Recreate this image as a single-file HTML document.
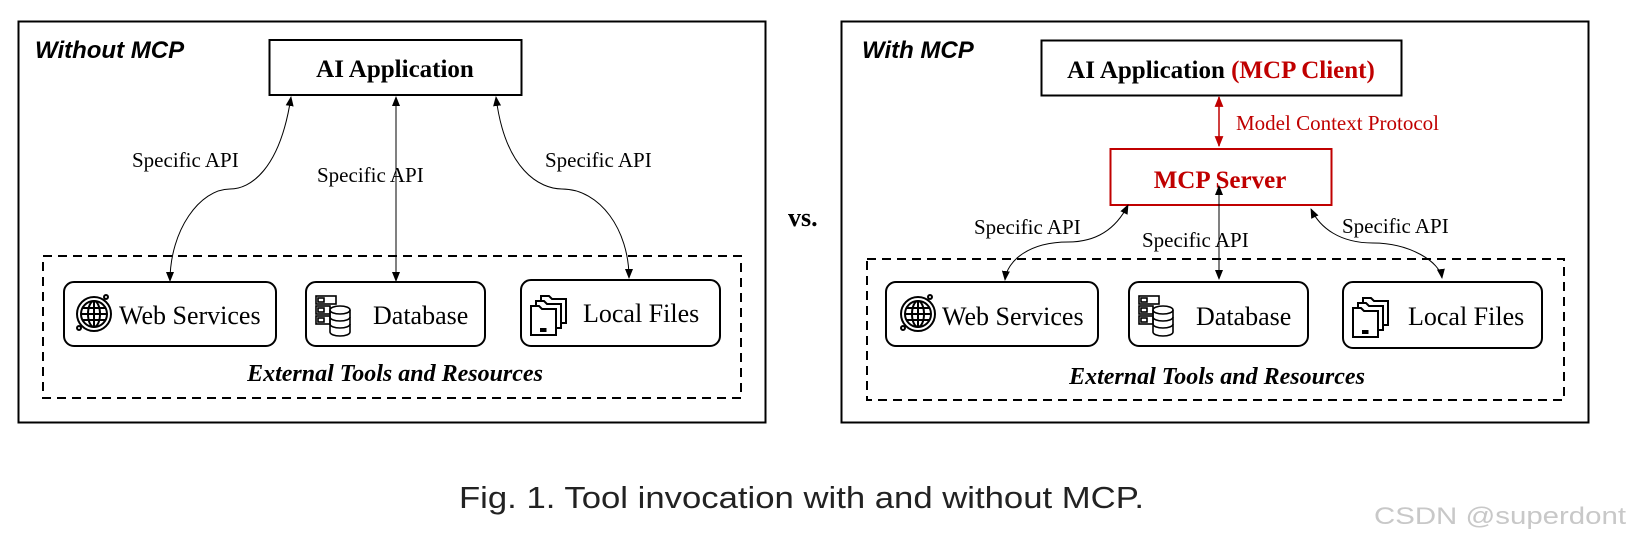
<!DOCTYPE html>
<html><head><meta charset="utf-8"><style>
html,body{margin:0;padding:0;background:#fff;}
svg{display:block;}
.s{font-family:"Liberation Serif",serif;}
</style></head><body>
<svg width="1634" height="543" viewBox="0 0 1634 543" xmlns="http://www.w3.org/2000/svg">
<defs>
<marker id="a" viewBox="0 0 10 10" refX="9" refY="5" markerWidth="10" markerHeight="10" orient="auto-start-reverse" markerUnits="userSpaceOnUse"><path d="M0,1 L10,5 L0,9 z" fill="#000"/></marker>
<marker id="r" viewBox="0 0 10 10" refX="9" refY="5" markerWidth="11" markerHeight="11" orient="auto-start-reverse" markerUnits="userSpaceOnUse"><path d="M0,1 L10,5 L0,9 z" fill="#c00000"/></marker>
<g id="globe" fill="none" stroke="#000" stroke-width="2">
<circle cx="0" cy="0" r="17"/><circle cx="0" cy="0" r="13"/>
<ellipse cx="0" cy="0" rx="6" ry="13"/><line x1="0" y1="-13" x2="0" y2="13"/>
<line x1="-13" y1="0" x2="13" y2="0"/><line x1="-11" y1="-6" x2="11" y2="-6"/><line x1="-11" y1="6" x2="11" y2="6"/>
<circle cx="12" cy="-17" r="2"/><circle cx="-15" cy="14" r="2"/>
</g>
<g id="db" fill="none" stroke="#000" stroke-width="1.6">
<rect x="-16" y="-18" width="20" height="8"/><rect x="-16" y="-8" width="14" height="8"/><rect x="-16" y="2" width="14" height="8"/>
<rect x="-14" y="-16" width="6" height="4"/><rect x="-14" y="-6" width="6" height="4"/><rect x="-14" y="4" width="6" height="4"/>
<ellipse cx="8" cy="-4" rx="10" ry="4" fill="#fff"/><path d="M-2,-4 v22 a10,4 0 0 0 20,0 v-22"/><path d="M-2,3 a10,4 0 0 0 20,0 M-2,10 a10,4 0 0 0 20,0"/>
</g>
<g id="fold" fill="none" stroke="#000" stroke-width="2">
<path d="M-10,-18 h8 l3,3 h14 v24 h-25z"/><path d="M-15,-13 h8 l3,3 h14 v24 h-25z" fill="#fff"/><path d="M-20,-8 h8 l3,3 h14 v26 h-25z" fill="#fff"/>
<rect x="-10" y="15" width="1.5" height="2" fill="#000"/><rect x="-7" y="15" width="1.5" height="2" fill="#000"/>
</g>
</defs>

<!-- LEFT PANEL -->
<rect x="18.5" y="21.5" width="747" height="401" fill="none" stroke="#000" stroke-width="2"/>
<text x="35" y="58" font-family="Liberation Sans, sans-serif" font-weight="bold" font-style="italic" font-size="24">Without MCP</text>
<rect x="269.5" y="40" width="252" height="55" fill="none" stroke="#000" stroke-width="2"/>
<text class="s" x="395" y="77" text-anchor="middle" font-weight="bold" font-size="25">AI Application</text>

<path d="M291,97 C280,170 250,189 230,189 C200,189 170,230 170,281" fill="none" stroke="#000" stroke-width="1" marker-start="url(#a)" marker-end="url(#a)"/>
<line x1="396" y1="97" x2="396" y2="281" stroke="#000" stroke-width="1" marker-start="url(#a)" marker-end="url(#a)"/>
<path d="M496,97 C505,170 540,189 562,189 C600,189 629,230 629,278" fill="none" stroke="#000" stroke-width="1" marker-start="url(#a)" marker-end="url(#a)"/>
<text class="s" x="132" y="167" font-size="21">Specific API</text>
<text class="s" x="317" y="182" font-size="21">Specific API</text>
<text class="s" x="545" y="167" font-size="21">Specific API</text>

<rect x="43" y="256" width="698" height="142" fill="none" stroke="#000" stroke-width="2" stroke-dasharray="9,6"/>
<rect x="64" y="282" width="212" height="64" rx="10" fill="#fff" stroke="#000" stroke-width="2"/>
<use href="#globe" x="94" y="314"/>
<text class="s" x="119" y="324" font-size="26">Web Services</text>
<rect x="306" y="282" width="179" height="64" rx="10" fill="#fff" stroke="#000" stroke-width="2"/>
<use href="#db" x="332" y="314"/>
<text class="s" x="373" y="324" font-size="26">Database</text>
<rect x="521" y="280" width="199" height="66" rx="10" fill="#fff" stroke="#000" stroke-width="2"/>
<use href="#fold" x="551" y="314"/>
<text class="s" x="583" y="322" font-size="26">Local Files</text>
<text class="s" x="395" y="381" text-anchor="middle" font-weight="bold" font-style="italic" font-size="24">External Tools and Resources</text>

<text class="s" x="788" y="226" font-weight="bold" font-size="26">vs.</text>

<!-- RIGHT PANEL -->
<rect x="841.5" y="21.5" width="747" height="401" fill="none" stroke="#000" stroke-width="2"/>
<text x="862" y="58" font-family="Liberation Sans, sans-serif" font-weight="bold" font-style="italic" font-size="24">With MCP</text>
<rect x="1041.5" y="40.5" width="360" height="55" fill="none" stroke="#000" stroke-width="2"/>
<text class="s" x="1221" y="78" text-anchor="middle" font-weight="bold" font-size="25">AI Application <tspan fill="#c00000">(MCP Client)</tspan></text>
<line x1="1219" y1="97" x2="1219" y2="146" stroke="#c00000" stroke-width="1.5" marker-start="url(#r)" marker-end="url(#r)"/>
<text class="s" x="1236" y="130" font-size="21" fill="#c00000">Model Context Protocol</text>
<rect x="1110.5" y="149" width="221" height="56" fill="#fff" stroke="#c00000" stroke-width="2"/>
<text class="s" x="1220" y="188" text-anchor="middle" font-weight="bold" font-size="25" fill="#c00000">MCP Server</text>

<line x1="1219" y1="186" x2="1219" y2="279" stroke="#000" stroke-width="1" marker-start="url(#a)" marker-end="url(#a)"/>
<path d="M1128,205 C1118,225 1100,242 1068,242 C1030,242 1007,260 1005,280" fill="none" stroke="#000" stroke-width="1" marker-start="url(#a)" marker-end="url(#a)"/>
<path d="M1311,209 C1320,228 1340,243 1373,243 C1410,243 1440,262 1442,278" fill="none" stroke="#000" stroke-width="1" marker-start="url(#a)" marker-end="url(#a)"/>
<text class="s" x="974" y="234" font-size="21">Specific API</text>
<text class="s" x="1142" y="247" font-size="21">Specific API</text>
<text class="s" x="1342" y="233" font-size="21">Specific API</text>

<rect x="867" y="259" width="697" height="141" fill="none" stroke="#000" stroke-width="2" stroke-dasharray="9,6"/>
<rect x="886" y="282" width="212" height="64" rx="10" fill="#fff" stroke="#000" stroke-width="2"/>
<use href="#globe" x="918" y="314"/>
<text class="s" x="942" y="325" font-size="26">Web Services</text>
<rect x="1129" y="282" width="179" height="64" rx="10" fill="#fff" stroke="#000" stroke-width="2"/>
<use href="#db" x="1155" y="314"/>
<text class="s" x="1196" y="325" font-size="26">Database</text>
<rect x="1343" y="282" width="199" height="66" rx="10" fill="#fff" stroke="#000" stroke-width="2"/>
<use href="#fold" x="1373" y="316"/>
<text class="s" x="1408" y="325" font-size="26">Local Files</text>
<text class="s" x="1217" y="384" text-anchor="middle" font-weight="bold" font-style="italic" font-size="24">External Tools and Resources</text>

<!-- caption -->
<text x="459" y="508" font-family="Liberation Sans, sans-serif" font-size="31" fill="#222" textLength="685" lengthAdjust="spacingAndGlyphs">Fig. 1.  Tool invocation with and without MCP.</text>
<text x="1374" y="524" font-family="Liberation Sans, sans-serif" font-size="24" fill="#c8c8c8" textLength="252" lengthAdjust="spacingAndGlyphs">CSDN @superdont</text>
</svg>
</body></html>
